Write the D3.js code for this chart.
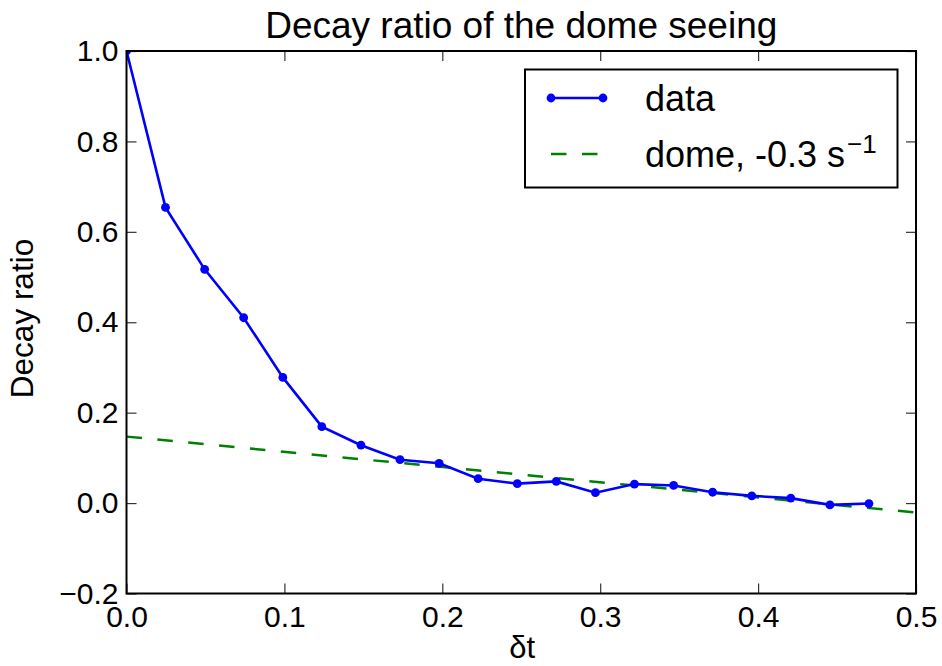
<!DOCTYPE html>
<html>
<head>
<meta charset="utf-8">
<script src="https://cdn.jsdelivr.net/npm/d3@7"></script>
<style>
  body { margin: 0; background: #fff; }
  svg text { font-family: "Liberation Sans", Arial, sans-serif; }
</style>
</head>
<body>
<div id="chart"></div>
<script>
// data
const dt = [0, 0.0247, 0.0495, 0.0742, 0.099, 0.1237, 0.1485, 0.1732, 0.198, 0.2227,
            0.2475, 0.2722, 0.297, 0.3217, 0.3465, 0.3712, 0.396, 0.4207, 0.4455, 0.4702];
const ratio = [1.0, 0.654, 0.517, 0.410, 0.278, 0.169, 0.128, 0.096, 0.088, 0.054,
               0.043, 0.048, 0.023, 0.042, 0.039, 0.024, 0.016, 0.011, -0.004, -0.001];
// dome fit line (two end points)
const dome_x = [0, 0.5];
const dome_y = [0.147, -0.021];

const x_ticks = [0, 0.1, 0.2, 0.3, 0.4, 0.5];
const y_ticks = [-0.2, 0, 0.2, 0.4, 0.6, 0.8, 1.0];

const width = 942, height = 666;
const plot_left = 126.5, plot_right = 916, plot_top = 51, plot_bottom = 593.5;

const svg = d3.select("#chart").append("svg")
              .attr("width", width)
              .attr("height", height);

const x = d3.scaleLinear().domain([0, 0.5]).range([plot_left, plot_right]);
const y = d3.scaleLinear().domain([-0.2, 1.0]).range([plot_bottom, plot_top]);

const fmt = d => d < 0 ? "\u2212" + Math.abs(d).toFixed(1) : d.toFixed(1);

// axes, ticks inside on all four sides
const ax_bottom = svg.append("g").attr("transform", `translate(0,${plot_bottom})`)
    .call(d3.axisBottom(x).tickValues(x_ticks).tickSize(-10).tickPadding(12).tickFormat(fmt));
const ax_top = svg.append("g").attr("transform", `translate(0,${plot_top})`)
    .call(d3.axisTop(x).tickValues(x_ticks).tickSize(-10).tickFormat(""));
const ax_left = svg.append("g").attr("transform", `translate(${plot_left},0)`)
    .call(d3.axisLeft(y).tickValues(y_ticks).tickSize(-10).tickPadding(8).tickFormat(fmt));
const ax_right = svg.append("g").attr("transform", `translate(${plot_right},0)`)
    .call(d3.axisRight(y).tickValues(y_ticks).tickSize(-10).tickFormat(""));

[ax_bottom, ax_top, ax_left, ax_right].forEach(a => {
    a.select(".domain").remove();
    a.selectAll(".tick line").attr("stroke", "#333").attr("stroke-width", 1.2);
    a.selectAll(".tick text").attr("font-size", "30px").attr("fill", "#000");
});
ax_bottom.selectAll(".tick text").attr("dy", "0.71em");

// clip for plot
svg.append("clipPath").attr("id", "clip")
   .append("rect").attr("x", plot_left).attr("y", plot_top)
   .attr("width", plot_right - plot_left).attr("height", plot_bottom - plot_top);

const plot = svg.append("g").attr("clip-path", "url(#clip)");

// dome line
const dome_line = d3.line().x((d, i) => x(dome_x[i])).y(d => y(d));
plot.append("path")
    .attr("d", dome_line(dome_y))
    .attr("fill", "none")
    .attr("stroke", "#008000")
    .attr("stroke-width", 2.5)
    .attr("stroke-dasharray", "15.5,15.5");

// data line
const data_line = d3.line().x((d, i) => x(dt[i])).y(d => y(d));
plot.append("path")
    .attr("d", data_line(ratio))
    .attr("fill", "none")
    .attr("stroke", "#0000ff")
    .attr("stroke-width", 2.6);

plot.selectAll("circle.pt")
    .data(ratio)
    .enter().append("circle")
    .attr("class", "pt")
    .attr("cx", (d, i) => x(dt[i]))
    .attr("cy", d => y(d))
    .attr("r", 4.4)
    .attr("fill", "#0000ff");

// frame
svg.append("rect")
   .attr("x", plot_left).attr("y", plot_top)
   .attr("width", plot_right - plot_left).attr("height", plot_bottom - plot_top)
   .attr("fill", "none").attr("stroke", "#000").attr("stroke-width", 2);

// title and labels
svg.append("text")
   .attr("x", (plot_left + plot_right) / 2).attr("y", 38)
   .attr("text-anchor", "middle")
   .attr("font-size", "37px")
   .text("Decay ratio of the dome seeing");

svg.append("text")
   .attr("x", (plot_left + plot_right) / 2 + 1).attr("y", 658)
   .attr("text-anchor", "middle")
   .attr("font-size", "31px")
   .text("\u03b4t");

svg.append("text")
   .attr("transform", "translate(33,318.5) rotate(-90)")
   .attr("text-anchor", "middle")
   .attr("font-size", "31.5px")
   .text("Decay ratio");

// legend
const lg = svg.append("g");
lg.append("rect")
  .attr("x", 525).attr("y", 69.5)
  .attr("width", 372.5).attr("height", 118)
  .attr("fill", "#fff").attr("stroke", "#000").attr("stroke-width", 2);

lg.append("line")
  .attr("x1", 551).attr("x2", 603).attr("y1", 98).attr("y2", 98)
  .attr("stroke", "#0000ff").attr("stroke-width", 2.6);
[551, 603].forEach(cx => {
    lg.append("circle").attr("cx", cx).attr("cy", 98).attr("r", 4.4).attr("fill", "#0000ff");
});
lg.append("text").attr("x", 645).attr("y", 111).attr("font-size", "36px").text("data");

lg.append("line")
  .attr("x1", 551).attr("x2", 598).attr("y1", 154).attr("y2", 154)
  .attr("stroke", "#008000").attr("stroke-width", 2.5)
  .attr("stroke-dasharray", "15.5,15.5");
const t2 = lg.append("text").attr("x", 645).attr("y", 166.5).attr("font-size", "36px");
t2.append("tspan").text("dome, -0.3 s");
t2.append("tspan").attr("dx", 2).attr("dy", -14).attr("font-size", "26px").text("\u22121");
</script>
</body>
</html>
